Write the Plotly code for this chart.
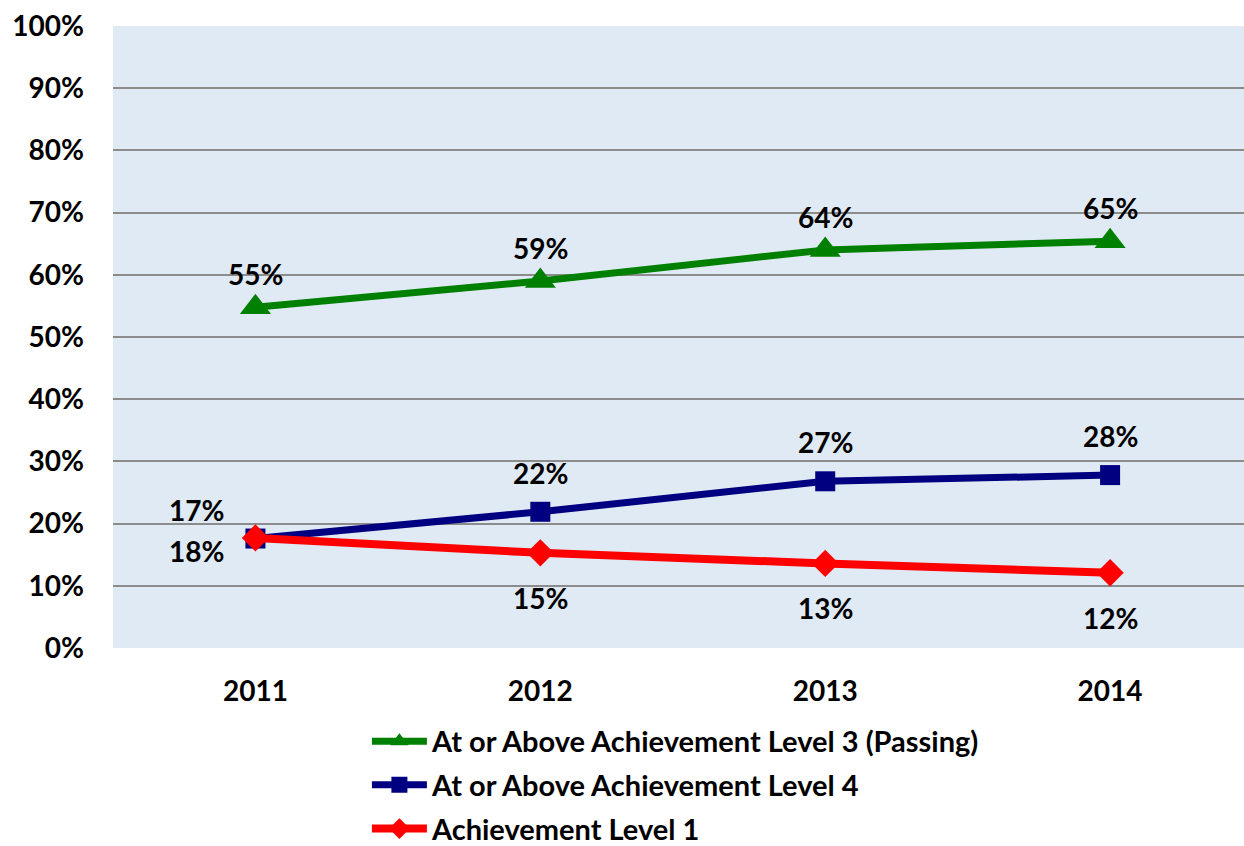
import plotly.graph_objects as go

years = ["2011", "2012", "2013", "2014"]
level3 = [54.8, 59.0, 64.0, 65.4]
level4 = [17.6, 21.9, 26.8, 27.8]
level1 = [17.7, 15.3, 13.6, 12.1]
level3_labels = ["55%", "59%", "64%", "65%"]
level4_labels = ["17%", "22%", "27%", "28%"]
level1_labels = ["18%", "15%", "13%", "12%"]
names = ["At or Above Achievement Level 3 (Passing)", "At or Above Achievement Level 4", "Achievement Level 1"]
yticks = list(range(0, 101, 10))

FONT = "Lato"
FS = 28
fig = go.Figure()
fig.add_trace(go.Scatter(x=years, y=level3, name=names[0], mode="lines+markers", legendgroup="a",
                         line=dict(color="#008000", width=7),
                         marker=dict(symbol="triangle-up", size=27, color="#008000")))
fig.add_trace(go.Scatter(x=years, y=level4, name=names[1], mode="lines+markers", legendgroup="b",
                         line=dict(color="#000080", width=7),
                         marker=dict(symbol="square", size=20, color="#000080")))
fig.add_trace(go.Scatter(x=years, y=level1, name=names[2], mode="lines+markers", legendgroup="c",
                         line=dict(color="#FF0000", width=8),
                         marker=dict(symbol="diamond", size=21, color="#FF0000")))

annfont = dict(family=FONT, size=FS, color="black", weight="bold")
for i, y in enumerate(years):
    fig.add_annotation(x=i, y=level3[i], text=level3_labels[i], showarrow=False, yshift=33, font=annfont)
    if i == 0:
        fig.add_annotation(x=i, y=level4[i], text=level4_labels[i], showarrow=False, yshift=29, xshift=-59, font=annfont)
        fig.add_annotation(x=i, y=level1[i], text=level1_labels[i], showarrow=False, yshift=-13, xshift=-59, font=annfont)
    else:
        fig.add_annotation(x=i, y=level4[i], text=level4_labels[i], showarrow=False, yshift=39, font=annfont)
        fig.add_annotation(x=i, y=level1[i], text=level1_labels[i], showarrow=False, yshift=-45, font=annfont)

fig.update_layout(
    width=1244, height=846,
    margin=dict(l=113, r=0, t=26, b=198, autoexpand=False),
    plot_bgcolor="#E0EAF4", paper_bgcolor="white",
    font=dict(family=FONT, size=FS, color="black", weight="bold"),
    showlegend=True,
    legend=dict(x=0.2245, y=-0.109, xanchor="left", yanchor="top", tracegroupgap=3,
                font=dict(family=FONT, size=29, color="black", weight="bold"),
                bgcolor="rgba(0,0,0,0)", itemwidth=55),
    xaxis=dict(type="category", range=[-0.5, 3.47], showgrid=False, zeroline=False,
               showline=False, ticks="", ticklabelstandoff=24),
    yaxis=dict(range=[0, 100], tickvals=yticks, ticktext=[f"{v}%" for v in yticks],
               showgrid=True, gridcolor="#8C8C8C", gridwidth=2, zeroline=False,
               showline=False, ticks="", ticklabelstandoff=28),
)
fig.write_html("out.html", config={"displayModeBar": False},
               post_script="document.body.style.margin='0';")
